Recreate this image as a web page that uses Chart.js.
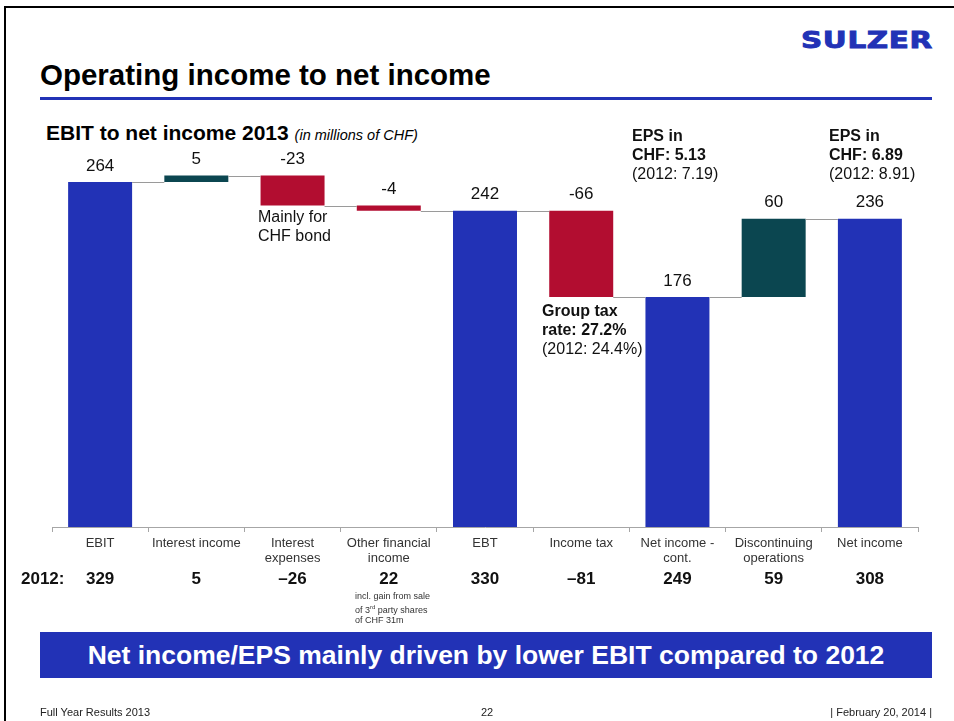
<!DOCTYPE html>
<html>
<head>
<meta charset="utf-8">
<script src="https://cdn.jsdelivr.net/npm/chart.js@4.4.1/dist/chart.umd.min.js"></script>
<style>
  html, body { margin: 0; padding: 0; background: #fff; }
  body { width: 954px; height: 721px; position: relative; overflow: hidden;
         font-family: "Liberation Sans", Arial, sans-serif; color: #000; }
  .abs { position: absolute; white-space: nowrap; }
  #frameTop { left: 4px; top: 6px; width: 960px; height: 2px; background: #000; }
  #frameLeft { left: 4px; top: 6px; width: 2px; height: 730px; background: #000; }
  #logo { left: 801px; top: 27px; font-family: "DejaVu Sans", sans-serif; font-weight: bold;
          font-size: 23px; letter-spacing: 0.5px; color: #2232B6; -webkit-text-stroke: 0.9px #2232B6;
          transform: scaleX(1.28); transform-origin: left; }
  #title { left: 40px; top: 58px; font-size: 29.5px; font-weight: bold; }
  #rule { left: 40px; top: 97px; width: 892px; height: 3px; background: #2232B6; }
  #sub { left: 46px; top: 121px; font-size: 21px; font-weight: bold; }
  #sub i { font-size: 14.5px; font-weight: normal; }
  .note { font-size: 16px; line-height: 19px; color: #111; }
  .foot { font-size: 9px; line-height: 10.5px; color: #333; }
  #banner { left: 40px; top: 632px; width: 892px; height: 46px; background: #2232B6; color: #fff;
            font-size: 26.5px; font-weight: bold; text-align: center; line-height: 46px; }
  .ft { top: 706px; font-size: 11px; color: #222; }
  canvas { position: absolute; left: 0; top: 0; }
</style>
</head>
<body>
<div class="abs" id="frameTop"></div>
<div class="abs" id="frameLeft"></div>
<div class="abs" id="logo">SULZER</div>
<div class="abs" id="title">Operating income to net income</div>
<div class="abs" id="rule"></div>
<div class="abs" id="sub">EBIT to net income 2013 <i>(in millions of CHF)</i></div>

<canvas id="waterfall" width="954" height="721"></canvas>

<div class="abs note" style="left:258px; top:207px;">Mainly for<br>CHF bond</div>
<div class="abs note" style="left:542px; top:301px;"><b>Group tax<br>rate: 27.2%</b><br>(2012: 24.4%)</div>
<div class="abs note" style="left:632px; top:126px;"><b>EPS in<br>CHF: 5.13</b><br>(2012: 7.19)</div>
<div class="abs note" style="left:829px; top:126px;"><b>EPS in<br>CHF: 6.89</b><br>(2012: 8.91)</div>
<div class="abs foot" style="left:355px; top:591px;">incl. gain from sale<br>of 3<sup style="font-size:6px;">rd</sup> party shares<br>of CHF 31m</div>

<div class="abs" id="banner">Net income/EPS mainly driven by lower EBIT compared to 2012</div>
<div class="abs ft" style="left:40px;">Full Year Results 2013</div>
<div class="abs ft" style="left:481px;">22</div>
<div class="abs ft" style="right:22px;">| February 20, 2014 |</div>

<script>
// values
const categories = [
  "EBIT", "Interest income", ["Interest", "expenses"], ["Other financial", "income"],
  "EBT", "Income tax", ["Net income -", "cont."], ["Discontinuing", "operations"], "Net income"
];
const values = [264, 5, -23, -4, 242, -66, 176, 60, 236];
const isTotal = [true, false, false, false, true, false, true, false, true];
const prior2012 = ["329", "5", "\u201326", "22", "330", "\u201381", "249", "59", "308"];

const BLUE = "#2232B6", TEAL = "#0B4650", RED = "#B20D30";

// floating ranges for the waterfall
let running = 0;
const ranges = values.map((v, i) => {
  if (isTotal[i]) { running = v; return [0, v]; }
  const start = running;
  running += v;
  return [start, running];
});
const colors = values.map((v, i) => isTotal[i] ? BLUE : (v >= 0 ? TEAL : RED));

const extras = {
  id: "extras",
  afterDatasetsDraw(chart) {
    const ctx = chart.ctx;
    const bars = chart.getDatasetMeta(0).data;
    const y = chart.scales.y;
    const x = chart.scales.x;
    ctx.save();
    // connector lines
    ctx.strokeStyle = "#9a9a9a";
    ctx.lineWidth = 1;
    for (let i = 0; i < bars.length - 1; i++) {
      const level = ranges[i][1];
      const py = Math.round(y.getPixelForValue(level)) + 0.5;
      ctx.beginPath();
      ctx.moveTo(bars[i].x + bars[i].width / 2, py);
      ctx.lineTo(bars[i + 1].x - bars[i + 1].width / 2, py);
      ctx.stroke();
    }
    // value labels
    ctx.fillStyle = "#111";
    ctx.font = "17px 'Liberation Sans', Arial, sans-serif";
    ctx.textAlign = "center";
    ctx.textBaseline = "middle";
    bars.forEach((b, i) => {
      const top = y.getPixelForValue(Math.max(ranges[i][0], ranges[i][1]));
      ctx.fillText(String(values[i]), b.x, top - 16);
    });
    // 2012 comparison row
    ctx.font = "bold 17px 'Liberation Sans', Arial, sans-serif";
    categories.forEach((c, i) => {
      ctx.fillText(prior2012[i], x.getPixelForValue(i), 579);
    });
    ctx.textAlign = "left";
    ctx.fillText("2012:", 21, 579);
    ctx.restore();
  }
};

new Chart(document.getElementById("waterfall"), {
  type: "bar",
  data: {
    labels: categories,
    datasets: [{
      data: ranges,
      backgroundColor: colors,
      borderWidth: 0,
      barPercentage: 0.665,
      categoryPercentage: 1
    }]
  },
  options: {
    responsive: false,
    animation: false,
    layout: { padding: { left: 52, right: 36, top: 135, bottom: 154 } },
    plugins: { legend: { display: false }, tooltip: { enabled: false } },
    scales: {
      y: { display: false, min: 0, max: 300 },
      x: {
        afterFit: (scale) => { scale.height = 40; },
        grid: { display: true, drawOnChartArea: false, tickLength: 5, color: "#a6a6a6" },
        border: { color: "#a6a6a6" },
        ticks: {
          autoSkip: false, maxRotation: 0, padding: 4, color: "#333",
          font: { family: "'Liberation Sans', Arial, sans-serif", size: 13, lineHeight: 1.15 }
        }
      }
    }
  },
  plugins: [extras]
});
</script>
</body>
</html>
